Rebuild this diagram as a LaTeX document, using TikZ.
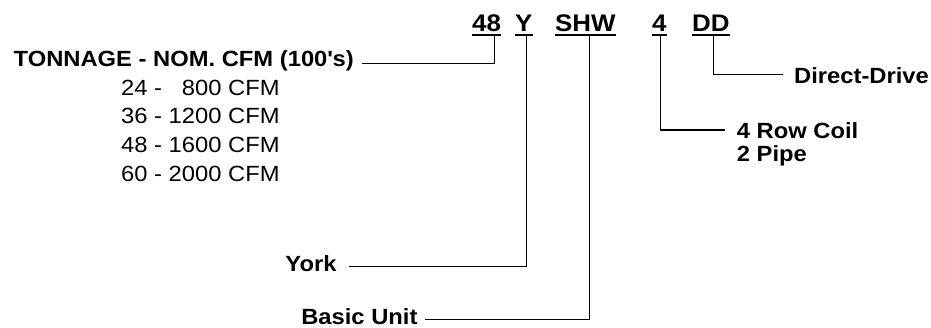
\documentclass[tikz,border=0pt]{standalone}
\usepackage{fontspec}
\setmainfont{Liberation Sans}[FakeStretch=1.08]
\begin{document}
\begin{tikzpicture}[x=1pt,y=-1pt,
  code/.style={font=\fontsize{24}{24}\selectfont\bfseries, inner sep=0pt, anchor=base west, text depth=0pt},
  lab/.style={font=\fontsize{22}{23.5}\selectfont\bfseries, inner sep=0pt},
  lst/.style={font=\fontsize{22}{28.5}\selectfont, inner sep=0pt, anchor=base west},
  conn/.style={line width=1.3pt},
  uline/.style={line width=2pt}]
\useasboundingbox (0,0) rectangle (931,327);
% code letters
\node[code] (c48) at (472,31.7) {48};
\node[code] (cY) at (515,31.7) {Y};
\node[code] (cSHW) at (555,31.7) {SHW};
\node[code] (c4) at (652,31.7) {4};
\node[code] (cDD) at (692,31.7) {DD};
\foreach \n in {c48,cY,cSHW,c4,cDD}
  \draw[uline] ([yshift=-3pt]\n.base west) -- ([yshift=-3pt]\n.base east);
% labels
\node[lab, anchor=base east] (tonn) at (354,66.7) {TONNAGE - NOM. CFM (100\textquotesingle s)};
\node[lst] (l1) at (121,95.7) {24 - \hphantom{1}800 CFM};
\node[lst] (l2) at (121,123.3) {36 - 1200 CFM};
\node[lst] (l3) at (121,152) {48 - 1600 CFM};
\node[lst] (l4) at (121,181) {60 - 2000 CFM};
\node[lab, anchor=base east] (york) at (336.7,271.7) {York};
\node[lab, anchor=base east, text depth=0pt] (basic) at (417.7,324.5) {Basic Unit};
\node[lab, anchor=base west] (dd) at (794,83) {Direct-Drive};
\node[lab, anchor=base west] (coil) at (736.7,138) {4 Row Coil};
\node[lab, anchor=base west] (pipe) at (736.7,161.7) {2 Pipe};
% connectors
\draw[conn] ([xshift=7.6pt,yshift=-3pt]c48.base) |- ([xshift=8pt,yshift=3.2pt]tonn.base east);
\draw[conn] ([xshift=2.4pt,yshift=-3pt]cY.base) |- ([xshift=12pt,yshift=5.5pt]york.base east);
\draw[conn] ([xshift=3.8pt,yshift=-3pt]cSHW.base) |- ([xshift=7.5pt,yshift=5pt]basic.base east);
\draw[conn] ([xshift=0.8pt,yshift=-3pt]c4.base) |- ([xshift=-11.7pt,yshift=8pt]coil.base west);
\draw[conn] ([xshift=2.3pt,yshift=-3pt]cDD.base) |- ([xshift=-11pt,yshift=8.5pt]dd.base west);
\end{tikzpicture}
\end{document}
